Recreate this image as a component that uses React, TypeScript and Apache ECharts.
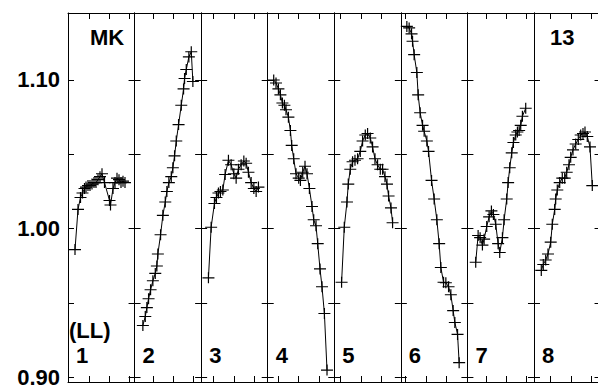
import React, { useEffect, useRef } from "react";
import * as echarts from "echarts";

// ---- data ----
const panelNames = ["1", "2", "3", "4", "5", "6", "7", "8"];
const yTickValues = [0.9, 0.95, 1.0, 1.05, 1.1];
const yLabelValues = [0.9, 1.0, 1.1];
const xTickValues = [
  [21, 41.7, 61.3],
  [18.7, 38.7, 58.7],
  [12.2, 32.9, 52.9],
  [10.6, 31, 51.3],
  [6.4, 26.7, 47.4],
  [4.8, 25.1, 45.1],
  [19.3, 39.3, 59.3],
  [16.7, 37, 57],
];

const panel1 = [
  [7, 0.986], [10, 1.013], [12.5, 1.021], [14.5, 1.024], [16.5, 1.027], [18, 1.028],
  [20, 1.029], [22, 1.029], [24, 1.03], [26, 1.031], [28, 1.031], [30, 1.033],
  [32, 1.035], [34, 1.037], [36.5, 1.031], [41.5, 1.019], [42.5, 1.016], [45, 1.027],
  [47, 1.031], [49, 1.034], [51, 1.033], [53, 1.031], [55, 1.032], [57, 1.031],
];
const panel2 = [
  [8.3, 0.935], [10.7, 0.941], [12.3, 0.947], [14, 0.953], [16, 0.959], [18.3, 0.965],
  [20.7, 0.97], [22.3, 0.975], [23.3, 0.983], [26, 0.996], [28.3, 1.009], [30.7, 1.018],
  [32.3, 1.025], [34.3, 1.031], [36.7, 1.035], [38.3, 1.041], [40, 1.049], [41.7, 1.059],
  [44, 1.07], [46.7, 1.083], [49, 1.094], [50, 1.101], [51.7, 1.107], [54.3, 1.1155],
  [56.7, 1.119], [58.3, 1.099],
];
const panel3 = [
  [7.3, 0.967], [10, 1.001], [13.3, 1.017], [15.3, 1.021], [17.3, 1.024], [19.3, 1.025],
  [21.7, 1.026], [24, 1.0365], [27.3, 1.046], [30, 1.043], [32.7, 1.037], [35, 1.034],
  [37.3, 1.04], [40, 1.043], [42.7, 1.0455], [45, 1.044], [47.3, 1.038], [50, 1.031],
  [52.7, 1.027], [55, 1.025], [57.3, 1.028],
];
const panel4 = [
  [6, 1.1], [8.3, 1.098], [10.7, 1.094], [12.7, 1.09], [14.7, 1.0845], [16.7, 1.083],
  [18.3, 1.08], [20.7, 1.075], [22.7, 1.066], [24, 1.056], [26, 1.047], [28.3, 1.037],
  [31, 1.034], [32.7, 1.0325], [35, 1.038], [37.3, 1.042], [39.3, 1.037], [41.7, 1.027],
  [44.3, 1.015], [46, 1.006], [48.3, 1.002], [50, 0.99], [52.3, 0.973], [54.3, 0.961],
  [56.7, 0.943], [59.3, 0.905],
];
const panel5 = [
  [7.3, 0.964], [10, 1.001], [12.7, 1.018], [14, 1.03], [16, 1.04], [18.3, 1.045],
  [20.7, 1.046], [23.3, 1.047], [26, 1.052], [28.3, 1.059], [31, 1.063], [33.3, 1.064],
  [36, 1.061], [38.3, 1.055], [40.7, 1.047], [43.3, 1.043], [46, 1.04], [48.3, 1.04],
  [50.7, 1.035], [52.7, 1.03], [54.3, 1.022], [56.7, 1.014], [58.3, 1.004],
];
const panel6 = [
  [6, 1.136], [8.3, 1.135], [10.7, 1.131], [11.7, 1.126], [13.3, 1.117], [16, 1.105],
  [17.3, 1.09], [19.3, 1.078], [21.7, 1.0695], [23.3, 1.0655], [26, 1.059], [27.7, 1.052],
  [30.7, 1.0325], [33.3, 1.02], [36, 1.006], [38.3, 0.99], [40, 0.974], [42.7, 0.964],
  [45, 0.9637], [47.7, 0.961], [50, 0.9556], [52.3, 0.945], [54, 0.937], [56.7, 0.929],
  [58.3, 0.91],
];
const panel7 = [
  [8.3, 0.9775], [10.7, 0.9955], [12.7, 0.994], [15, 0.989], [16.7, 0.993], [19.3, 1.0015],
  [21.7, 1.008], [24, 1.012], [26, 1.0096], [28.3, 1.003], [30.7, 0.99], [32.3, 0.984],
  [35, 0.994], [36.7, 1.006], [39.3, 1.02], [40.7, 1.031], [42.3, 1.041], [44.3, 1.051],
  [46, 1.058], [48.3, 1.063], [50, 1.065], [51.7, 1.066], [53.3, 1.0695], [55, 1.0756],
  [58.3, 1.081],
];
const panel8 = [
  [7.3, 0.972], [9.3, 0.976], [11.7, 0.979], [14, 0.983], [16.7, 0.991], [18.3, 1.003],
  [20.7, 1.013], [21.7, 1.02], [23.3, 1.026], [25.7, 1.031], [28.3, 1.034], [30.7, 1.034],
  [32.7, 1.038], [35, 1.043], [36.7, 1.048], [39, 1.053], [41.7, 1.057], [44.3, 1.06],
  [46.7, 1.063], [49, 1.064], [51, 1.065], [53.3, 1.062], [56, 1.055], [58.3, 1.029],
];
const panels = [panel1, panel2, panel3, panel4, panel5, panel6, panel7, panel8];

// ---- layout ----
const W = 598;
const H = 385;
const LEFT = 68;
const TOP = 13;
const PW = 66.57;
const PH = 369;
const Y_MIN = 0.897;
const Y_MAX = 1.145;
const X_MAX = PW;
const FONT = "Liberation Sans";
const CROSS = "path://M0,45H100V55H0ZM45,0H55V100H45Z";

export default function App() {
  const ref = useRef<HTMLDivElement>(null);

  useEffect(() => {
    if (!ref.current) return;
    const chart = echarts.init(ref.current, null, { renderer: "svg", width: W, height: H });

    const grids: any[] = [];
    const xAxes: any[] = [];
    const yAxes: any[] = [];
    const series: any[] = [];
    const graphics: any[] = [];

    const axisLine = { show: true, onZero: false, lineStyle: { color: "#000", width: 1 } };

    panels.forEach((data, i) => {
      const left = LEFT + i * PW;
      grids.push({ left, top: TOP, width: PW, height: PH, outerBoundsMode: "none", containLabel: false });
      ["bottom", "top"].forEach((pos) => {
        xAxes.push({
          type: "value",
          gridIndex: i,
          position: pos,
          min: 0,
          max: X_MAX,
          axisLine,
          axisTick: { show: true, inside: true, length: 6, customValues: xTickValues[i], lineStyle: { color: "#000", width: 1 } },
          axisLabel: { show: false },
          splitLine: { show: false },
        });
      });
      ["left", "right"].forEach((pos) => {
        const showLabel = i === 0 && pos === "left";
        yAxes.push({
          type: "value",
          gridIndex: i,
          position: pos,
          min: Y_MIN,
          max: Y_MAX,
          axisLine,
          axisTick: { show: true, inside: true, length: 6, customValues: yTickValues, lineStyle: { color: "#000", width: 1 } },
          axisLabel: showLabel
            ? {
                show: true,
                customValues: yLabelValues,
                formatter: (v: number) => v.toFixed(2),
                margin: 8,
                color: "#000",
                fontFamily: FONT,
                fontWeight: "bold",
                fontSize: 22,
              }
            : { show: false },
          splitLine: { show: false },
        });
      });
      series.push({
        type: "line",
        xAxisIndex: 2 * i,
        yAxisIndex: 2 * i,
        data,
        symbol: CROSS,
        symbolSize: [12, 11],
        showAllSymbol: true,
        lineStyle: { color: "#000", width: 1 },
        itemStyle: { color: "#000" },
        silent: true,
        clip: false,
      });
      graphics.push({
        type: "text",
        x: left + 8,
        y: 355,
        style: { text: panelNames[i], font: `bold 22px "${FONT}"`, fill: "#000", verticalAlign: "middle", align: "left" },
      });
    });

    graphics.push({
      type: "text",
      x: LEFT + 1,
      y: 330,
      style: { text: "(LL)", font: `bold 22px "${FONT}"`, fill: "#000", verticalAlign: "middle", align: "left" },
    });
    graphics.push({
      type: "text",
      x: LEFT + 22,
      y: 37,
      style: { text: "MK", font: `bold 22px "${FONT}"`, fill: "#000", verticalAlign: "middle", align: "left" },
    });
    graphics.push({
      type: "text",
      x: LEFT + 7 * PW + 16,
      y: 37,
      style: { text: "13", font: `bold 22px "${FONT}"`, fill: "#000", verticalAlign: "middle", align: "left" },
    });

    chart.setOption({
      animation: false,
      backgroundColor: "#fff",
      grid: grids,
      xAxis: xAxes,
      yAxis: yAxes,
      series,
      graphic: graphics,
    });

    return () => chart.dispose();
  }, []);

  return (
    <div
      ref={ref}
      style={{ position: "absolute", left: 0, top: 0, width: W, height: H, background: "#fff" }}
    />
  );
}
